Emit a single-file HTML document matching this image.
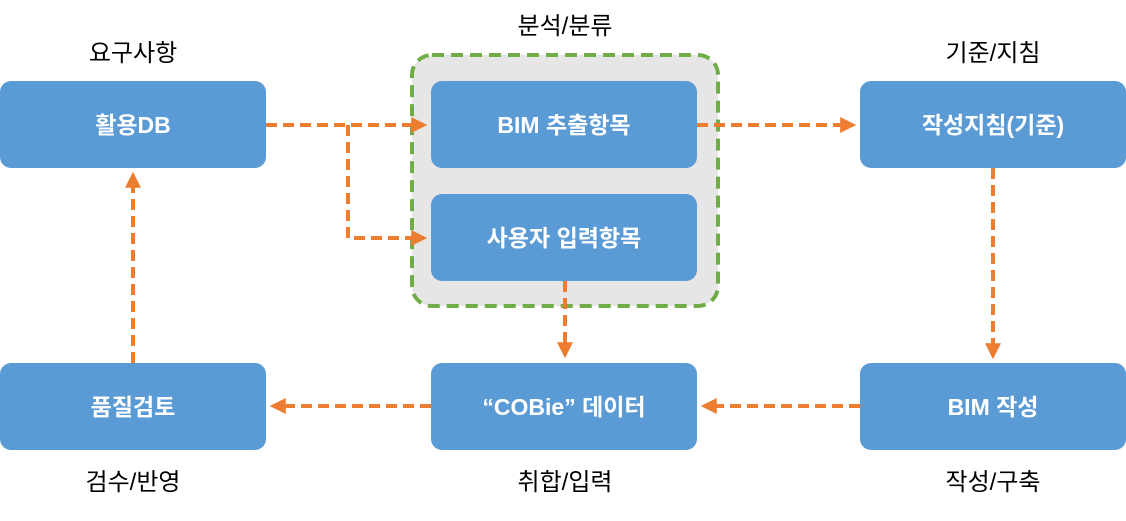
<!DOCTYPE html>
<html><head><meta charset="utf-8"><style>
html,body{margin:0;padding:0;background:#fff;}
svg text{font-family:"Liberation Sans","Noto Sans CJK KR",sans-serif;}
</style></head><body>
<svg width="1126" height="516" viewBox="0 0 1126 516" xmlns="http://www.w3.org/2000/svg">
<defs>
<marker id="a" markerWidth="4" markerHeight="4" refX="3.2" refY="2" orient="auto" markerUnits="strokeWidth">
<path d="M0,0 L4,2 L0,4 z" fill="#ed7d31"/></marker>
</defs>
<rect x="412" y="55" width="306" height="251" rx="20" fill="#e6e6e6" stroke="#70ad47" stroke-width="4" stroke-dasharray="12,7"/>
<g fill="#5b9bd5">
<rect x="0" y="81" width="266" height="87" rx="11"/>
<rect x="431" y="81" width="266" height="87" rx="11"/>
<rect x="431" y="194" width="266" height="87" rx="11"/>
<rect x="860" y="81" width="266" height="87" rx="11"/>
<rect x="0" y="363" width="266" height="87" rx="11"/>
<rect x="431" y="363" width="266" height="87" rx="11"/>
<rect x="860" y="363" width="266" height="87" rx="11"/>
</g>
<g fill="#fff" font-size="23" font-weight="bold" text-anchor="middle">
<text x="133" y="133">활용DB</text>
<text x="564" y="133">BIM 추출항목</text>
<text x="564" y="246">사용자 입력항목</text>
<text x="993" y="133">작성지침(기준)</text>
<text x="133" y="415">품질검토</text>
<text x="564" y="415">“COBie” 데이터</text>
<text x="993" y="415">BIM 작성</text>
</g>
<g fill="#000" font-size="24" text-anchor="middle">
<text x="133" y="61">요구사항</text>
<text x="565" y="34">분석/분류</text>
<text x="993" y="61">기준/지침</text>
<text x="133" y="490">검수/반영</text>
<text x="565" y="490">취합/입력</text>
<text x="993" y="490">작성/구축</text>
</g>
<g stroke="#ed7d31" stroke-width="4" fill="none" stroke-dasharray="11,6">
<path d="M266,125 H424" marker-end="url(#a)"/>
<path d="M348,125 V238 H424" marker-end="url(#a)"/>
<path d="M697,125 H853" marker-end="url(#a)"/>
<path d="M993,168 V356" marker-end="url(#a)"/>
<path d="M860,406 H704" marker-end="url(#a)"/>
<path d="M565,281 V355" marker-end="url(#a)"/>
<path d="M431,406 H273" marker-end="url(#a)"/>
<path d="M133,363 V175" marker-end="url(#a)"/>
</g>
</svg>
</body></html>
